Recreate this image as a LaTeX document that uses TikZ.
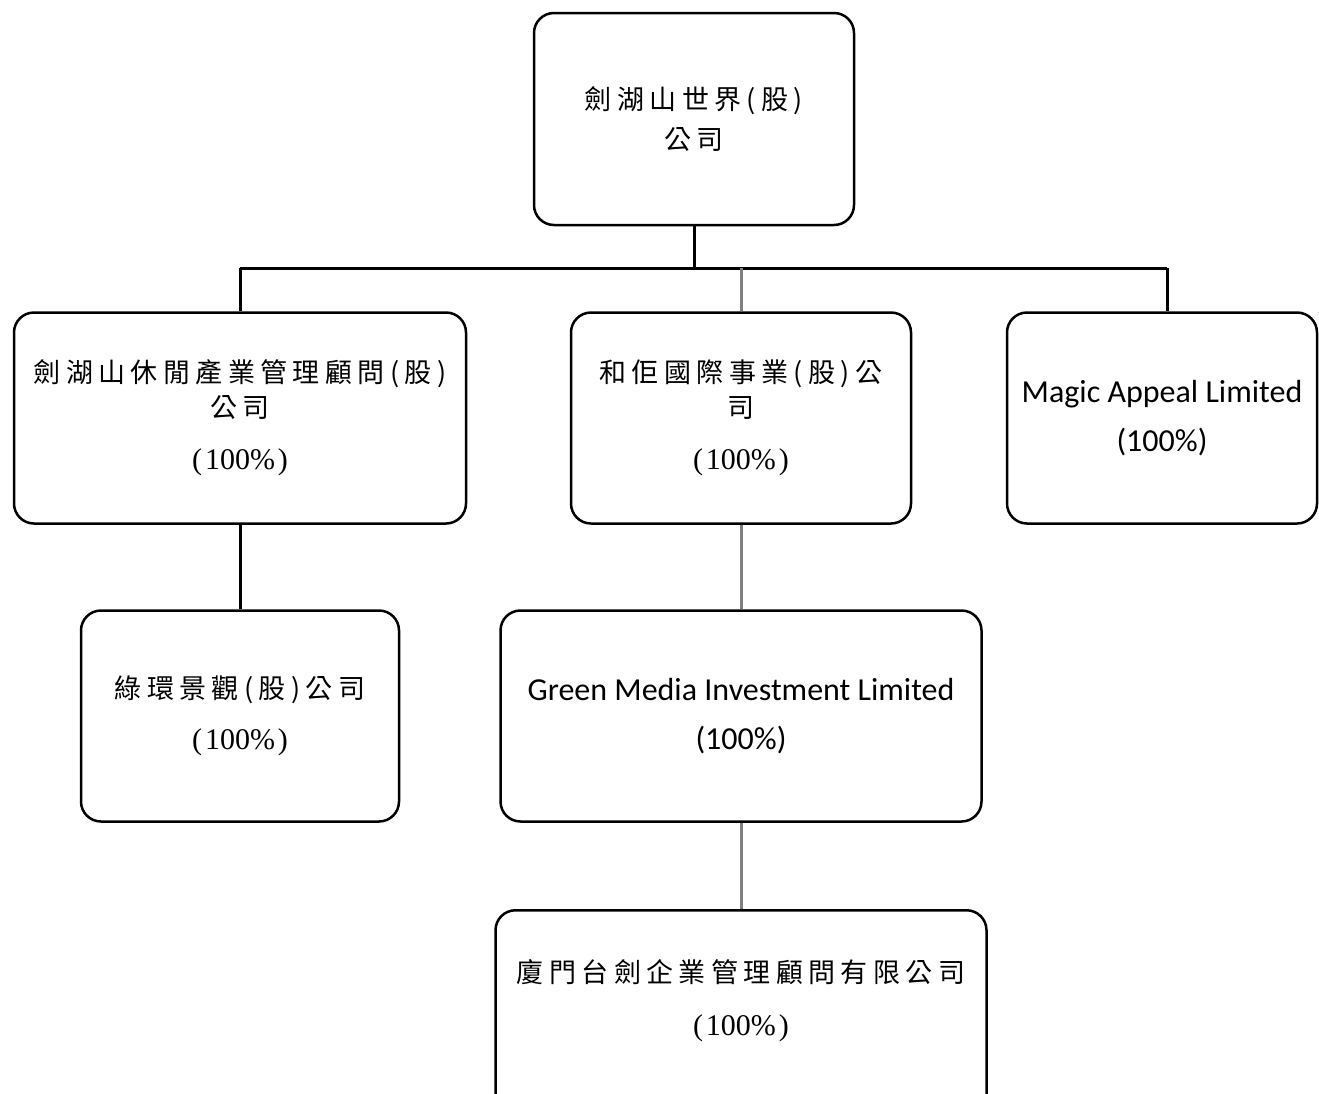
\documentclass[tikz,border=0pt]{standalone}
\usepackage{fontspec}
\setmainfont{Liberation Serif}
\newfontfamily\cjkf{Noto Sans CJK TC}[LetterSpace=20]
\newfontfamily\calf{Carlito}
\newcommand\pctxt{{\rmfamily\fontsize{30}{35}\selectfont (\kern3pt100\%\kern3pt)}}
\tikzset{
  box/.style={draw=black, line width=2.5pt, rounded corners=20pt, fill=white, inner sep=0pt},
  cjktxt/.style={align=center, font=\cjkf\fontsize{27}{35}\selectfont},
  lattxt/.style={align=center, font=\calf\fontsize{32}{49}\selectfont},
  thick link/.style={draw=black, line width=3pt},
  gray link/.style={draw=black!50, line width=3pt},
}
\begin{document}
\begin{tikzpicture}[x=1pt, y=-1pt]
\useasboundingbox (0,0) rectangle (1319,1093);
% boxes
\node[box, cjktxt, minimum width=320pt, minimum height=212pt] (top) at (694,119) {劍湖山世界(股)\\[5pt]公司};
\node[box, cjktxt, minimum width=452pt, minimum height=211pt] (lm) at (240,418) {劍湖山休閒產業管理顧問(股)\\公司\\[17pt]\pctxt};
\node[box, cjktxt, minimum width=340pt, minimum height=211pt] (cm) at (741,418) {和佢國際事業(股)公\\司\\[17pt]\pctxt};
\node[box, lattxt, minimum width=310pt, minimum height=211pt] (rm) at (1162,418) {Magic Appeal Limited\\(100\%)};
\node[box, cjktxt, minimum width=318pt, minimum height=211pt] (lb) at (240,716) {綠環景觀(股)公司\\[16pt]\pctxt};
\node[box, lattxt, minimum width=481pt, minimum height=211pt] (gm) at (741,716) {Green Media Investment Limited\\(100\%)};
\node[box, minimum width=491pt, minimum height=220pt, anchor=north] (bt) at (741,909) {};
\node[cjktxt] (btt) at (741,1001) {廈門台劍企業管理顧問有限公司\\[18pt]\pctxt};
% connectors
\coordinate (jc) at (694,268);
\coordinate (jl) at (240,268);
\coordinate (jr) at (1167,268);
\coordinate (jm) at (741,268);
\draw[thick link] (top.south) -- (jc);
\draw[thick link] (jl) -- (jr);
\draw[thick link] (jl) -- (lm.north);
\draw[thick link] (jr) -- (jr |- rm.north);
\draw[gray link] (jm) -- (cm.north);
\draw[thick link] (lm.south) -- (lb.north);
\draw[gray link] (cm.south) -- (gm.north);
\draw[gray link] (gm.south) -- (bt.north);
\end{tikzpicture}
\end{document}
